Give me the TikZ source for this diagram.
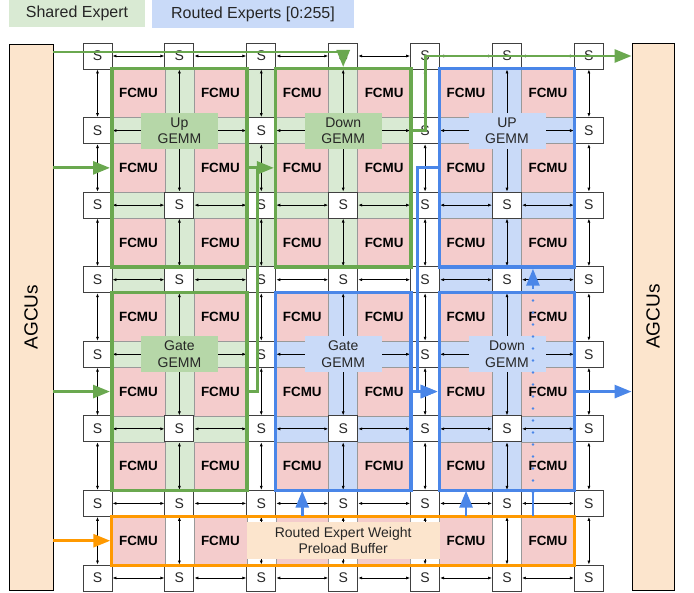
\documentclass[tikz,border=0pt]{standalone}
\usepackage{fontspec}
\setmainfont{Liberation Sans}
\usetikzlibrary{arrows.meta,fit,backgrounds,calc}

\definecolor{fcmured}{HTML}{F4CCCC}
\definecolor{sharedbg}{HTML}{D9EAD3}
\definecolor{sharedtag}{HTML}{B6D7A8}
\definecolor{sharedline}{HTML}{6AA84F}
\definecolor{routedbg}{HTML}{C9DAF8}
\definecolor{routedline}{HTML}{4A86E8}
\definecolor{bufline}{HTML}{FF9900}
\definecolor{peach}{HTML}{FCE5CD}

\tikzset{
  sbox/.style={draw=black!75, line width=0.9pt, fill=white, minimum width=29pt,
    minimum height=26pt, inner sep=0pt, text=black!85, font=\fontsize{14}{14}\selectfont},
  fcmu/.style={draw=black!40, line width=0.5pt, fill=fcmured, minimum width=52.9pt,
    minimum height=48.6pt, inner sep=0pt, font=\fontsize{13.4}{14}\selectfont\bfseries},
  hop/.style={line width=0.7pt, <->, >={Latex[length=4pt,width=3pt]}},
  gbox/.style={draw=sharedline, line width=3.5pt, inner sep=0pt},
  bbox/.style={draw=routedline, line width=3.5pt, inner sep=0pt},
  gtag/.style={fill=sharedtag, minimum width=77pt, minimum height=36pt, inner sep=0pt,
    align=center, text=black!85, font=\fontsize{14}{16.5}\selectfont},
  btag/.style={gtag, fill=routedbg},
  gline/.style={draw=sharedline, line width=2.8pt},
  bline/.style={draw=routedline, line width=2.8pt},
  oline/.style={draw=bufline, line width=2.8pt},
  bigtip/.style={-{Triangle[length=17pt,width=13pt]}},
  agcu/.style={draw, line width=0.9pt, fill=peach, inner sep=0pt},
  legend/.style={inner sep=0pt, text=black!85, font=\fontsize{16}{16}\selectfont},
}

\begin{document}
\begin{tikzpicture}[x=1pt, y=-1pt]
    \useasboundingbox (0,0) rectangle (694,593);

    \node[legend, fill=sharedbg, minimum width=136pt, minimum height=27pt] (lgS) at (77,13.5) {Shared Expert};
    \node[legend, fill=routedbg, minimum width=202pt, minimum height=28pt] (lgR) at (253,14) {Routed Experts [0:255]};

    \node[agcu, minimum width=44pt, minimum height=546pt] (aL) at (31,317) {};
    \node[rotate=90, font=\fontsize{19}{19}\selectfont] (aLt) at (aL) {AGCUs};
    \node[agcu, minimum width=42pt, minimum height=547pt] (aR) at (653,316.5) {};
    \node[rotate=90, font=\fontsize{19}{19}\selectfont] (aRt) at (aR) {AGCUs};

    \foreach \c in {1,...,6}
      \foreach \r in {1,...,7} {
        \def\ftxt{FCMU}
        \ifnum\r=7 \ifnum\c>2 \ifnum\c<5 \def\ftxt{}\fi\fi\fi
        \node[fcmu] (f-\c-\r) at ({138.45+(\c-1)*81.9},{93.3+(\r-1)*74.57}) {\ftxt};
      }

    \begin{scope}[on background layer]
      \fill[sharedbg] (f-1-1.north west) rectangle (f-4-3.south east);
      \fill[sharedbg] (f-1-1.north west) rectangle (f-2-6.south east);
      \fill[routedbg] (f-5-1.north west) rectangle (f-6-6.south east);
      \fill[routedbg] (f-3-4.north west) rectangle (f-4-6.south east);
    \end{scope}

    \foreach \c in {1,...,7}
      \foreach \r in {1,...,8} {
        \def\stxt{S}
        \ifnum\r=2 \ifodd\c\else\def\stxt{}\fi\fi
        \ifnum\r=5 \ifodd\c\else\def\stxt{}\fi\fi
        \node[sbox] (s-\c-\r) at ({97.5+(\c-1)*81.9},{56+(\r-1)*74.57}) {\stxt};
      }

    \foreach \r in {1,...,8}
      \foreach \c/\cc in {1/2,2/3,3/4,4/5,5/6,6/7}
        \draw[hop] (s-\c-\r.east) -- (s-\cc-\r.west);
    \foreach \c in {1,...,7}
      \foreach \r/\rr in {1/2,2/3,3/4,4/5,5/6,6/7,7/8}
        \draw[hop] (s-\c-\r.south) -- (s-\c-\rr.north);

    \node[gbox, fit=(f-1-1)(f-2-3)] (upS) {};
    \node[gbox, fit=(f-3-1)(f-4-3)] (dnS) {};
    \node[gbox, fit=(f-1-4)(f-2-6)] (gateS) {};
    \node[bbox, fit=(f-5-1)(f-6-3)] (upR) {};
    \node[bbox, fit=(f-3-4)(f-4-6)] (gateR) {};
    \node[bbox, fit=(f-5-4)(f-6-6)] (dnR) {};
    \node[draw=bufline, line width=3pt, inner sep=0pt, fit=(f-1-7)(f-6-7)] (buf) {};

    \node[gtag] (upSt) at (s-2-2) {Up\\GEMM};
    \node[gtag] (dnSt) at (s-4-2) {Down\\GEMM};
    \node[gtag] (gateSt) at (s-2-5) {Gate\\GEMM};
    \node[btag] (upRt) at (s-6-2) {UP\\GEMM};
    \node[btag] (gateRt) at (s-4-5) {Gate\\GEMM};
    \node[btag] (dnRt) at (s-6-5) {Down\\GEMM};
    \node[gtag, fill=peach, minimum width=193pt, minimum height=37pt, font=\fontsize{14}{16}\selectfont]
      (bufL) at ($(f-3-7)!0.5!(f-4-7)$) {Routed Expert Weight\\Preload Buffer};

    \coordinate (topbus) at (0,52);
    \draw[gline, bigtip] (aL.east |- topbus) -| (dnS.north);
    \draw[gline, bigtip] (aL.east |- upS.west) -- (upS.west);
    \draw[gline, bigtip] (aL.east |- gateS.west) -- (gateS.west);
    \draw[gline, bigtip] (upS.east) -- (dnS.west);
    \draw[gline] (gateS.east) -| ($(upS.east)+(9,0)$);
    \draw[gline, bigtip] (dnS.east |- s-5-2.center) -| (s-5-1.center) -- (aR.west |- s-5-1.center);

    \draw[bline, bigtip] (upR.west) -- ++(-20,0) |- (dnR.west);
    \draw[bline, bigtip] (gateR.east) -- (dnR.west);
    \draw[bline, bigtip] (dnR.east) -- (aR.west |- dnR.east);
    \draw[bline, bigtip] (f-3-7.north) -- (f-3-6.south);
    \draw[bline, bigtip] (f-5-7.north) -- (f-5-6.south);
    \coordinate (feed) at ($(f-6-7.north)+(-15,0)$);
    \draw[bline] (feed) -- (feed |- dnR.south);
    \draw[bline, line cap=round, dash pattern=on 0pt off 12pt] (feed |- dnR.south) -- ($(feed |- upR.south)+(0,22)$);
    \draw[bline, bigtip] ($(feed |- upR.south)+(0,20)$) -- (feed |- upR.south);

    \draw[oline, bigtip] (aL.east |- buf.west) -- (buf.west);
\end{tikzpicture}
\end{document}
